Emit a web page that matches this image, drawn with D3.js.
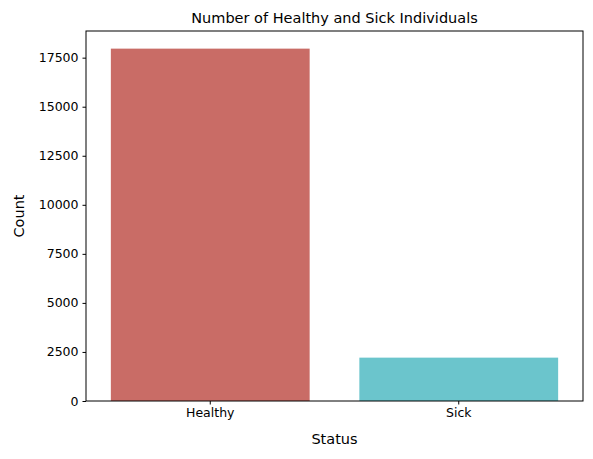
<!DOCTYPE html>
<html>
<head>
<meta charset="utf-8">
<script src="https://cdn.jsdelivr.net/npm/d3@7"></script>
<style>
  body { margin: 0; background: #fff; }
  text { font-family: "DejaVu Sans", sans-serif; }
</style>
</head>
<body>
<svg id="chart"></svg>
<script>
const categories = ["Healthy", "Sick"];
const counts = [17960, 2210];
const colors = ["#c96c66", "#6bc5cc"];
const yTicks = [0, 2500, 5000, 7500, 10000, 12500, 15000, 17500];

const width = 593, height = 459;
const margin = { top: 31, right: 10, bottom: 58, left: 86 };

const svg = d3.select("#chart").attr("width", width).attr("height", height);

const x = d3.scaleBand()
    .domain(categories)
    .range([margin.left, width - margin.right])
    .paddingInner(0.2)
    .paddingOuter(0.1);

const y = d3.scaleLinear()
    .domain([0, 18859])
    .range([height - margin.bottom, margin.top]);

svg.append("g")
    .selectAll("rect")
    .data(categories)
    .enter().append("rect")
    .attr("x", d => x(d))
    .attr("width", x.bandwidth())
    .attr("y", (d, i) => y(counts[i]))
    .attr("height", (d, i) => y(0) - y(counts[i]))
    .attr("fill", (d, i) => colors[i]);

const xAxis = svg.append("g")
    .attr("transform", `translate(0,${height - margin.bottom})`)
    .call(d3.axisBottom(x).tickSize(3.5).tickPadding(4));

const yAxis = svg.append("g")
    .attr("transform", `translate(${margin.left},0)`)
    .call(d3.axisLeft(y).tickValues(yTicks).tickFormat(d3.format("d")).tickSize(3.5).tickPadding(4));

[xAxis, yAxis].forEach(a => {
    a.selectAll("text").attr("font-size", 12.5).attr("fill", "#000").style("font-family", "DejaVu Sans");
    a.select(".domain").remove();
    a.selectAll("line").attr("stroke", "#000");
});

// frame
svg.append("rect")
    .attr("x", margin.left).attr("y", margin.top)
    .attr("width", width - margin.left - margin.right)
    .attr("height", height - margin.top - margin.bottom)
    .attr("fill", "none").attr("stroke", "#000").attr("stroke-width", 1);

svg.append("text")
    .attr("x", (margin.left + width - margin.right) / 2).attr("y", 23)
    .attr("text-anchor", "middle").attr("font-size", 14.5)
    .text("Number of Healthy and Sick Individuals");

svg.append("text")
    .attr("x", (margin.left + width - margin.right) / 2).attr("y", 444)
    .attr("text-anchor", "middle").attr("font-size", 14.5)
    .text("Status");

svg.append("text")
    .attr("transform", `translate(24,${(margin.top + height - margin.bottom) / 2}) rotate(-90)`)
    .attr("text-anchor", "middle").attr("font-size", 14.5)
    .text("Count");
</script>
</body>
</html>
